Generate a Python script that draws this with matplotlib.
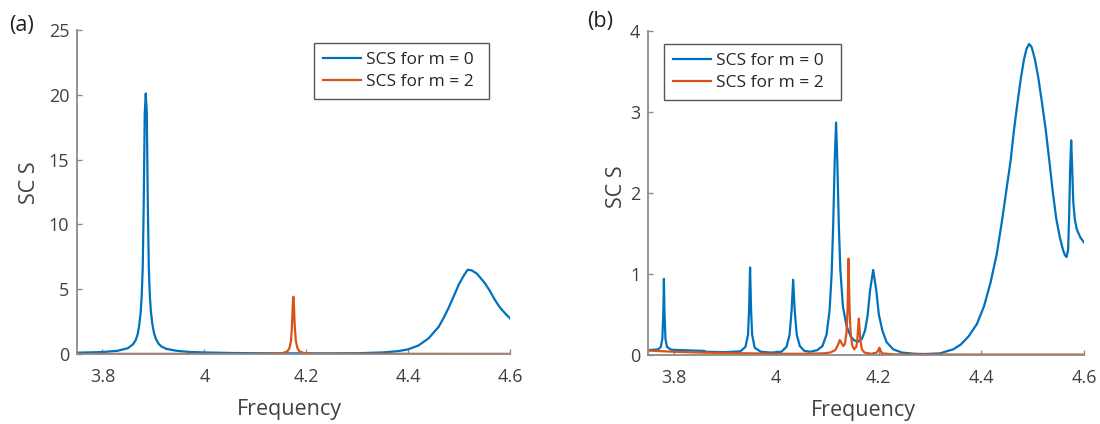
import matplotlib
matplotlib.use("Agg")
import matplotlib.pyplot as plt

# ---------------- data ----------------
# Panel (a)
a_m0_freq = [3.750, 3.800, 3.830, 3.850, 3.860, 3.865, 3.869, 3.872, 3.875, 3.877,
             3.879, 3.881, 3.883, 3.885, 3.887, 3.889, 3.891, 3.893, 3.895, 3.898,
             3.901, 3.905, 3.910, 3.915, 3.925, 3.945, 3.970, 4.000, 4.050, 4.100,
             4.150, 4.200, 4.250, 4.300, 4.350, 4.380, 4.400, 4.420, 4.440, 4.460,
             4.470, 4.480, 4.490, 4.500, 4.510, 4.517, 4.525, 4.535, 4.550, 4.560,
             4.570, 4.580, 4.590, 4.600]
a_m0_scs = [0.10, 0.15, 0.25, 0.45, 0.75, 1.05, 1.50, 2.20, 3.20, 4.50,
            6.60, 11.6, 18.6, 20.1, 18.6, 11.6, 6.60, 4.50, 3.30, 2.30,
            1.65, 1.15, 0.80, 0.60, 0.40, 0.25, 0.16, 0.12, 0.08, 0.06,
            0.05, 0.05, 0.05, 0.06, 0.12, 0.22, 0.36, 0.65, 1.20, 2.10,
            2.80, 3.60, 4.50, 5.40, 6.10, 6.50, 6.45, 6.20, 5.50, 4.90,
            4.20, 3.60, 3.15, 2.75]
a_m2_freq = [3.750, 4.100, 4.135, 4.155, 4.163, 4.167, 4.170, 4.1717, 4.1727, 4.1737,
             4.1747, 4.1757, 4.1767, 4.1777, 4.1797, 4.1827, 4.1867, 4.1947, 4.215, 4.600]
a_m2_scs = [0.01, 0.01, 0.02, 0.08, 0.21, 0.45, 1.00, 1.98, 2.85, 3.89,
            4.42, 3.89, 2.85, 1.98, 1.00, 0.45, 0.21, 0.08, 0.02, 0.01]

# Panel (b)
b_m0_freq = [3.750, 3.770, 3.775, 3.778, 3.780, 3.781, 3.782, 3.784, 3.787, 3.795,
             3.860, 3.862, 3.900, 3.930, 3.940, 3.945, 3.947, 3.949, 3.951, 3.953,
             3.958, 3.970, 3.990, 4.010, 4.020, 4.026, 4.030, 4.033, 4.036, 4.040,
             4.046, 4.055, 4.066, 4.080, 4.090, 4.098, 4.104, 4.108, 4.111, 4.114,
             4.1167, 4.119, 4.122, 4.125, 4.130, 4.137, 4.145, 4.152, 4.160, 4.167,
             4.173, 4.178, 4.183, 4.189, 4.195, 4.200, 4.207, 4.215, 4.228, 4.245,
             4.270, 4.290, 4.319, 4.345, 4.360, 4.375, 4.391, 4.405, 4.418, 4.430,
             4.440, 4.449, 4.457, 4.463, 4.470, 4.477, 4.483, 4.488, 4.493, 4.498,
             4.504, 4.511, 4.518, 4.525, 4.532, 4.539, 4.546, 4.553, 4.559, 4.563,
             4.566, 4.569, 4.571, 4.573, 4.575, 4.577, 4.579, 4.582, 4.586, 4.593,
             4.600]
b_m0_scs = [0.06, 0.07, 0.10, 0.20, 0.55, 0.94, 0.55, 0.20, 0.10, 0.065,
            0.05, 0.04, 0.035, 0.045, 0.10, 0.25, 0.55, 1.08, 0.55, 0.25,
            0.09, 0.04, 0.03, 0.04, 0.10, 0.25, 0.55, 0.93, 0.55, 0.25,
            0.11, 0.05, 0.04, 0.06, 0.11, 0.25, 0.55, 1.00, 1.60, 2.40,
            2.87, 2.40, 1.60, 1.05, 0.60, 0.36, 0.23, 0.18, 0.165, 0.20,
            0.30, 0.48, 0.80, 1.05, 0.80, 0.50, 0.30, 0.16, 0.07, 0.03,
            0.015, 0.012, 0.02, 0.07, 0.13, 0.23, 0.38, 0.60, 0.90, 1.25,
            1.65, 2.05, 2.40, 2.75, 3.10, 3.42, 3.65, 3.78, 3.84, 3.80,
            3.66, 3.42, 3.12, 2.80, 2.42, 2.02, 1.68, 1.45, 1.30, 1.23,
            1.21, 1.30, 1.70, 2.30, 2.65, 2.30, 1.90, 1.68, 1.55, 1.45,
            1.39]
b_m2_freq = [3.750, 3.800, 3.850, 3.900, 3.950, 4.000, 4.050, 4.090, 4.105, 4.115,
             4.120, 4.124, 4.128, 4.131, 4.134, 4.137, 4.139, 4.140, 4.141, 4.142,
             4.143, 4.145, 4.148, 4.152, 4.156, 4.158, 4.160, 4.161, 4.162, 4.164,
             4.167, 4.172, 4.185, 4.196, 4.199, 4.201, 4.203, 4.206, 4.230, 4.400,
             4.600]
b_m2_scs = [0.055, 0.04, 0.03, 0.025, 0.02, 0.015, 0.015, 0.02, 0.03, 0.06,
            0.12, 0.185, 0.14, 0.11, 0.14, 0.28, 0.55, 0.85, 1.19, 0.85,
            0.55, 0.28, 0.12, 0.07, 0.10, 0.18, 0.36, 0.45, 0.36, 0.18,
            0.07, 0.03, 0.015, 0.03, 0.06, 0.09, 0.06, 0.02, 0.008, 0.005,
            0.005]

x_ticks = [3.8, 4.0, 4.2, 4.4, 4.6]
x_tick_labels = ["3.8", "4", "4.2", "4.4", "4.6"]
a_y_ticks = [0, 5, 10, 15, 20, 25]
b_y_ticks = [0, 1, 2, 3, 4]
legend_labels = ["SCS for m = 0", "SCS for m = 2"]

# ---------------- style ----------------
plt.rcParams['font.family'] = ['Open Sans', 'DejaVu Sans']
BLUE = '#0072BD'
ORANGE = '#D95319'
AXC = '#8a8a8a'
TXT = '#404040'

W, H = 1100, 424
fig = plt.figure(figsize=(W / 100, H / 100), dpi=100)

def px_axes(l, t, r, b):
    return fig.add_axes([l / W, 1 - b / H, (r - l) / W, (b - t) / H])

axA = px_axes(77, 30, 510, 354)
axB = px_axes(648, 31, 1084, 355)

panels = [
    (axA, a_m0_freq, a_m0_scs, a_m2_freq, a_m2_scs, a_y_ticks, (0, 25), (314, 43, 489, 99)),
    (axB, b_m0_freq, b_m0_scs, b_m2_freq, b_m2_scs, b_y_ticks, (0, 4), (664, 44, 841, 100)),
]

for ax, f0, s0, f2, s2, yt, ylim, lb in panels:
    ax.plot(f0, s0, color=BLUE, lw=1.6, label=legend_labels[0])
    ax.plot(f2, s2, color=ORANGE, lw=1.6, label=legend_labels[1])
    ax.set_xlim(3.75, 4.6)
    ax.set_ylim(*ylim)
    ax.set_xticks(x_ticks)
    ax.set_xticklabels(x_tick_labels)
    ax.set_yticks(yt)
    ax.set_yticklabels([str(v) for v in yt])
    for side in ('top', 'right'):
        ax.spines[side].set_visible(False)
    for side in ('left', 'bottom'):
        ax.spines[side].set_color(AXC)
        ax.spines[side].set_linewidth(1.3)
    ax.tick_params(axis='both', direction='in', length=3.5, width=1.0,
                   color=AXC, labelcolor=TXT, labelsize=13)
    ax.tick_params(axis='x', pad=10)
    ax.tick_params(axis='y', pad=5.5)
    ax.set_xlabel('Frequency', fontsize=15.5, color=TXT)
    ax.set_ylabel('SC S', fontsize=15.5, color=TXT)
    l, t, r, b = lb
    leg = ax.legend(loc='upper left',
                    bbox_to_anchor=(l / W, 1 - b / H, (r - l) / W, (b - t) / H),
                    bbox_transform=fig.transFigure, borderaxespad=0, mode='expand',
                    fancybox=False, framealpha=1, edgecolor='#555555',
                    fontsize=12.5, handlelength=2.2, handletextpad=0.3,
                    labelspacing=0.35, borderpad=0.5)
    leg.get_frame().set_linewidth(1.0)
    for t_ in leg.get_texts():
        t_.set_color('#262626')

axA.xaxis.set_label_coords(0.49, -0.14)
axA.yaxis.set_label_coords(-0.086, 0.53)
axB.xaxis.set_label_coords(0.495, -0.14)
axB.yaxis.set_label_coords(-0.048, 0.52)

fig.text(21 / W, 1 - 25 / H, '(a)', fontsize=15.5, color='#202020', ha='center', va='center')
fig.text(600 / W, 1 - 22 / H, '(b)', fontsize=15.5, color='#202020', ha='center', va='center')

fig.savefig('out.png', dpi=100)
